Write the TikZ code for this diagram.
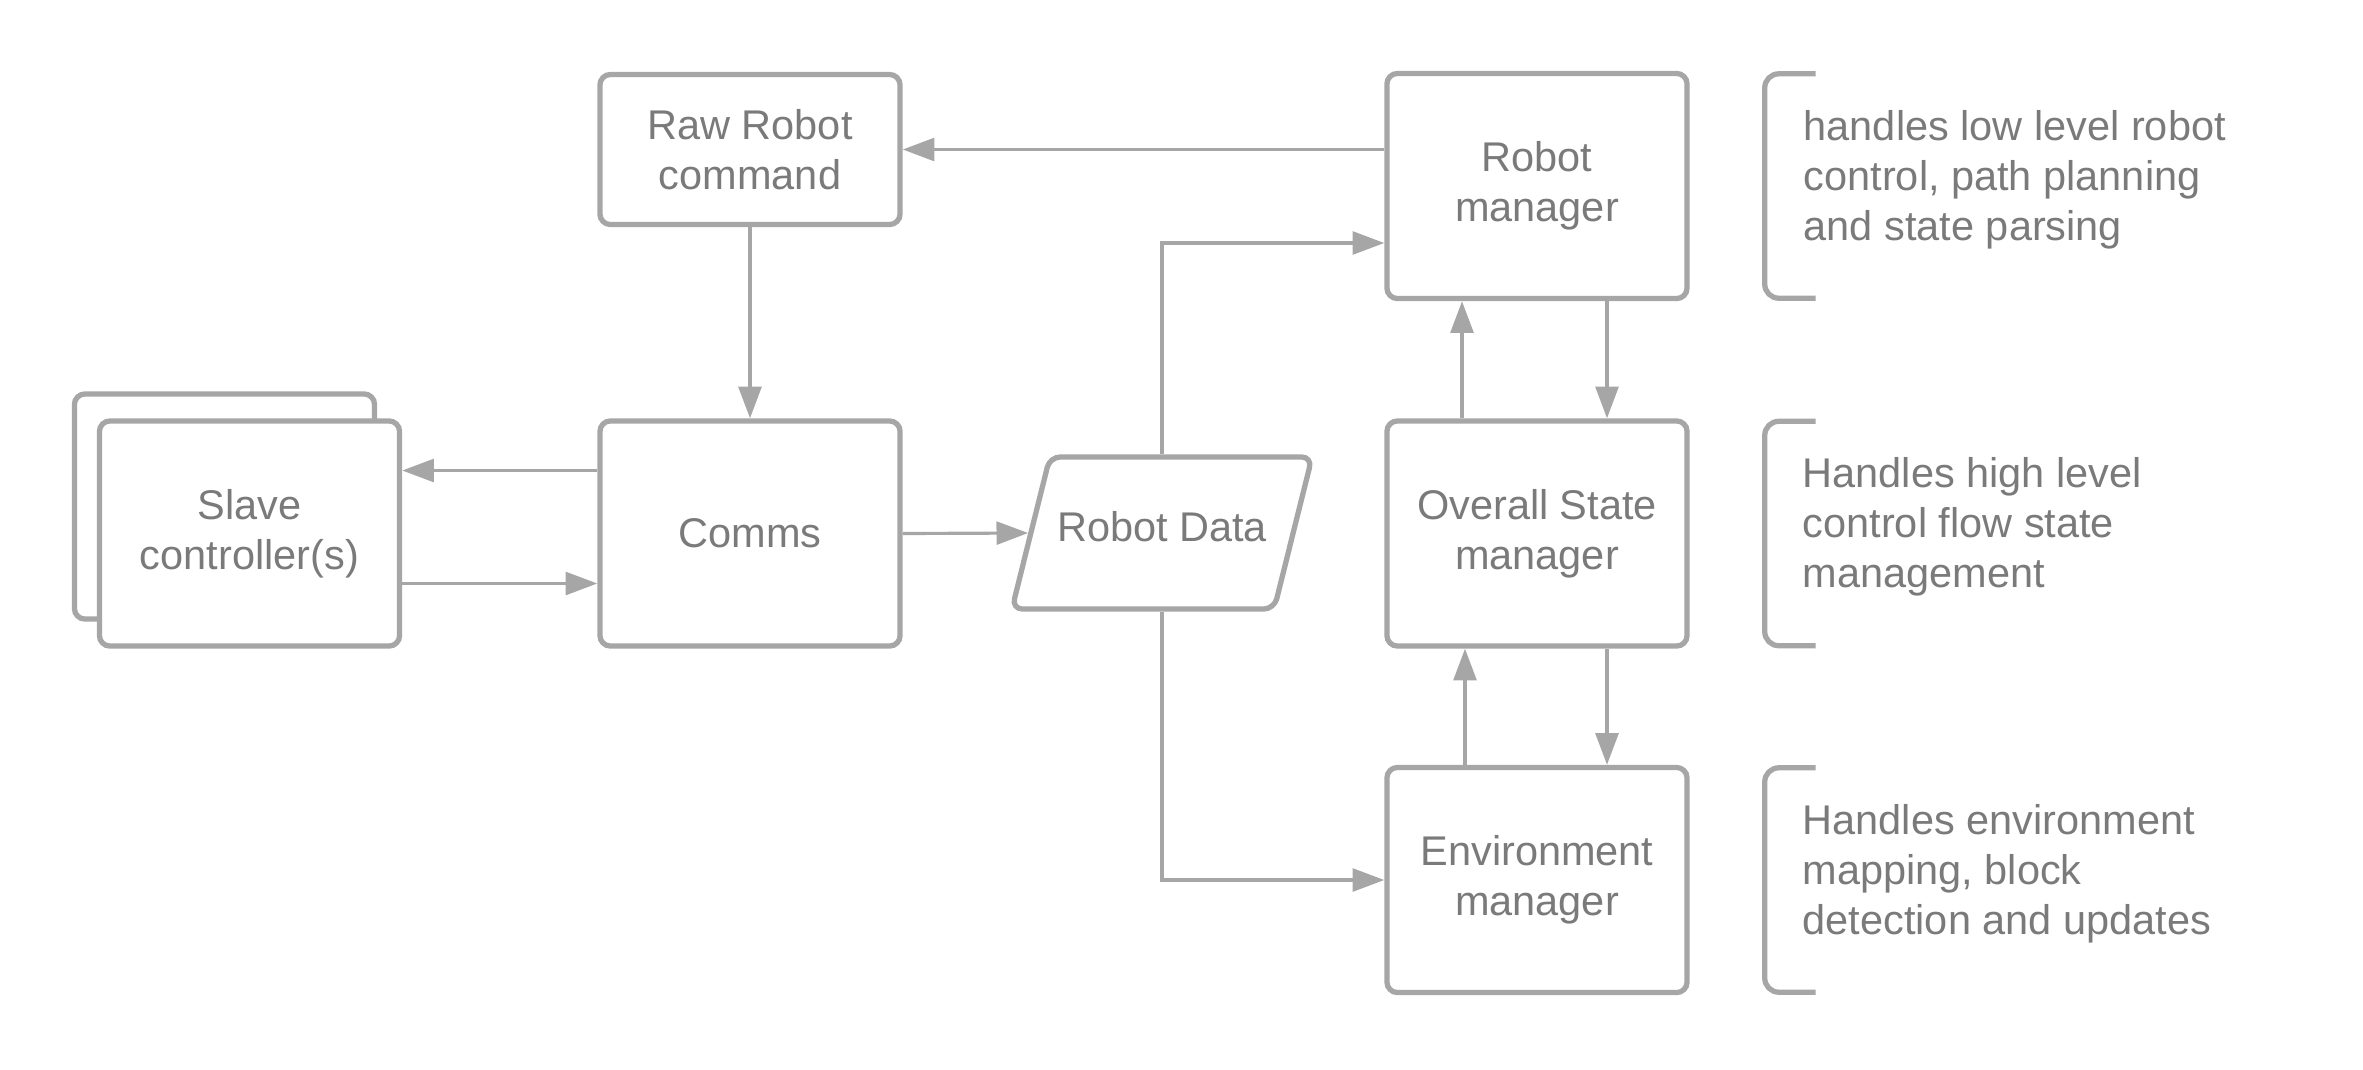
\documentclass[tikz,border=0pt]{standalone}
\usepackage{fontspec}
\setmainfont{Liberation Sans}
\usepackage{xcolor}
\usepackage{tikz}
\usetikzlibrary{arrows.meta}
\usetikzlibrary{calc}
\usetikzlibrary{shapes.geometric}
\definecolor{linegray}{HTML}{A6A6A6}
\definecolor{textgray}{HTML}{7A7A7A}
\tikzset{
    basenode/.style = {align=center, inner sep=0pt, text centered, text=textgray, font=\fontsize{11.8}{14.2}\selectfont},
    proc_node/.style = {basenode, rectangle, rounded corners=3pt, draw=linegray, line width=1.5pt, fill=white, minimum width=3cm, minimum height=2.25cm},
    short_node/.style = {proc_node, minimum height=1.5cm},
    data_node/.style = {basenode, trapezium, trapezium left angle=76, trapezium right angle=104, trapezium stretches body=true, rounded corners=3pt, draw=linegray, line width=1.5pt, text height=0.32cm, text depth=0.15cm, inner ysep=0.525cm, minimum width=3cm},
    note_node/.style = {basenode, align=left, anchor=west},
    bracket/.style = {draw=linegray, line width=1.5pt, rounded corners=4pt},
    link/.style = {->, draw=linegray, line width=0.9pt}
}

\begin{document}
\begin{tikzpicture}
            [x=0.01cm, y=-0.01cm,
            >={Triangle[length=9pt,width=6.5pt]}]

            \useasboundingbox (0,0) rectangle (2363,1069);

            \node [proc_node] (slave_back) at (224.5,506.5) {};
            \node [proc_node] (slave) at (249.5,533.5) {Slave\\controller(s)};
            \node [short_node] (raw) at (750,149.5) {Raw Robot\\command};
            \node [proc_node] (comms) at (750,533.5) {Comms};
            \node [data_node] (data) at (1162,533) {Robot Data};
            \node [proc_node] (robot) at (1537,186) {Robot\\manager};
            \node [proc_node] (state) at (1537,533.5) {Overall State\\manager};
            \node [proc_node] (env) at (1537,880) {Environment\\manager};

            \draw [bracket] ($(robot.north east)+(126,3)$) -- ($(robot.north east)+(75,3)$) -- ($(robot.south east)+(75,-3)$) -- ($(robot.south east)+(126,-3)$);
            \draw [bracket] ($(state.north east)+(126,3)$) -- ($(state.north east)+(75,3)$) -- ($(state.south east)+(75,-3)$) -- ($(state.south east)+(126,-3)$);
            \draw [bracket] ($(env.north east)+(126,3)$) -- ($(env.north east)+(75,3)$) -- ($(env.south east)+(75,-3)$) -- ($(env.south east)+(126,-3)$);

            \node [note_node] (note_robot) at (1803,180) {handles low level robot\\control, path planning\\and state parsing};
            \node [note_node] (note_state) at (1802,527) {Handles high level\\control flow state\\management};
            \node [note_node] (note_env) at (1802,874) {Handles environment\\mapping, block\\detection and updates};

            \draw [link] (robot.west |- raw.east) -- (raw.east);
            \draw [link] (raw.south) -- (comms.north);
            \draw [link] ($(comms.west)+(0,-63)$) -- (slave.east |- {$(comms.west)+(0,-63)$});
            \draw [link] ($(slave.east)+(0,50)$) -- (comms.west |- {$(slave.east)+(0,50)$});
            \draw [link] (comms.east) -- (data.west);
            \draw [link] (data.north) |- ($(robot.west)+(0,57)$);
            \draw [link] (data.south) |- (env.west);
            \draw [link] ($(state.north)+(-75,0)$) -- ($(robot.south)+(-75,0)$);
            \draw [link] ($(robot.south)+(70,0)$) -- ($(state.north)+(70,0)$);
            \draw [link] ($(env.north)+(-72,0)$) -- ($(state.south)+(-72,0)$);
            \draw [link] ($(state.south)+(70,0)$) -- ($(env.north)+(70,0)$);
\end{tikzpicture}
\end{document}
